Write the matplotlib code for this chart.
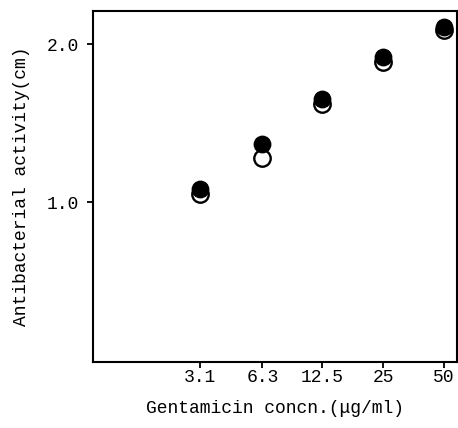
import matplotlib
matplotlib.use("Agg")
import matplotlib.pyplot as plt
from matplotlib.ticker import NullLocator, FixedLocator, FixedFormatter

# gentamicin concentrations (ug/ml) and zone diameters (cm)
conc = [3.1, 6.3, 12.5, 25, 50]
conc_labels = ["3.1", "6.3", "12.5", "25", "50"]
filled_vals = [1.08, 1.37, 1.65, 1.92, 2.11]
open_vals = [1.05, 1.28, 1.62, 1.89, 2.09]

plt.rcParams['font.family'] = ['Liberation Mono', 'DejaVu Sans']

fig = plt.figure(figsize=(4.58, 4.28), dpi=100)
ax = fig.add_axes([0.203, 0.154, 0.795, 0.820])

# open circles first, filled ones sit on top of them
ax.scatter(conc, open_vals, s=140, facecolors='white', edgecolors='black',
           linewidths=1.7, zorder=3)
ax.scatter(conc, filled_vals, s=140, color='black', zorder=4)

ax.set_xscale('log')
ax.set_xlim(0.915, 58.0)
ax.set_ylim(-0.013, 2.209)

ax.xaxis.set_major_locator(FixedLocator(conc))
ax.xaxis.set_major_formatter(FixedFormatter(conc_labels))
ax.xaxis.set_minor_locator(NullLocator())
ax.set_yticks([1.0, 2.0])
ax.set_yticklabels(["1.0", "2.0"])

ax.tick_params(direction='out', length=4, width=1.3, labelsize=13)
ax.tick_params(axis='x', pad=1)
ax.tick_params(axis='y', pad=6)
for sp in ax.spines.values():
    sp.set_linewidth(1.5)

ax.set_xlabel('Gentamicin concn.(\u03bcg/ml)', fontsize=13, labelpad=10)
ax.set_ylabel('Antibacterial activity(cm)', fontsize=13, labelpad=12)

plt.savefig('out.png', dpi=100)
